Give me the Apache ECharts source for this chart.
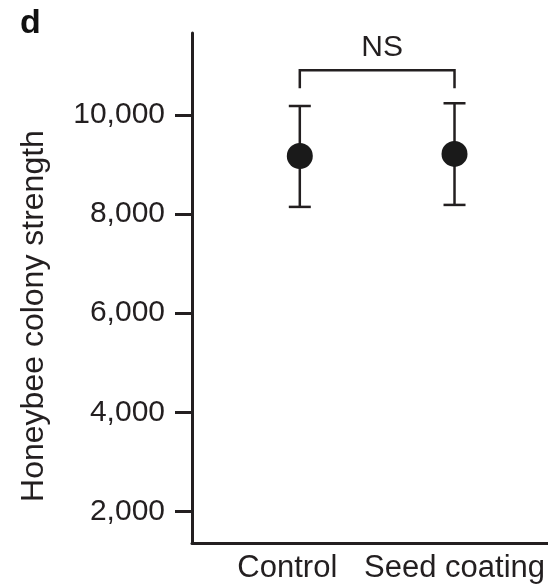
<!DOCTYPE html>
<html>
<head>
<meta charset="utf-8">
<script src="https://cdn.jsdelivr.net/npm/echarts@6/dist/echarts.min.js"></script>
<style>
  html, body { margin: 0; padding: 0; background: #fff; }
  #chart { width: 548px; height: 586px; }
</style>
</head>
<body>
<div id="chart"></div>
<script>
// ---- Data ----
const categories = ['Control', 'Seed coating'];
const means = [9173, 9214];
const upper = [10181, 10236];
const lower = [8145, 8185];
const yTicks = [2000, 4000, 6000, 8000, 10000];
const yName = 'Honeybee colony strength';
const panelLabel = 'd';
const bracketLegEnd = 10540;
const bracketTop = 10900;
const sigLabel = 'NS';
const sigLabelY = 11361;
const yMin = 1363;
const yMax = 11654;

const FONT = "'Liberation Sans', Arial, Helvetica, sans-serif";
const INK = '#231f20';

const idx = categories.map((c, i) => i);
const meanData = idx.map(i => [i, means[i]]);
const errData = idx.map(i => [i, lower[i], upper[i]]);
const bracketData = [[0, 1, bracketLegEnd, bracketTop, sigLabelY]];

const chart = echarts.init(document.getElementById('chart'), null, { renderer: 'canvas' });

chart.setOption({
  animation: false,
  backgroundColor: '#fff',
  title: {
    text: panelLabel,
    left: 20,
    top: 7,
    padding: 0,
    textStyle: { fontFamily: FONT, fontSize: 34, fontWeight: 'bold', color: '#111' }
  },
  grid: { left: 192, right: 0, top: 33, bottom: 43, containLabel: false },
  xAxis: {
    type: 'value',
    min: -0.6968,
    max: 1.6,
    splitLine: { show: false },
    axisLine: { show: true, onZero: false, lineStyle: { color: INK, width: 3 } },
    axisTick: { show: false },
    axisLabel: {
      customValues: idx,
      margin: 10,
      fontFamily: FONT,
      fontSize: 31,
      color: INK,
      formatter: v => {
        const name = categories[Math.round(v)];
        return Math.round(v) === 0 ? '{shift|' + name + '}' : name;
      },
      rich: {
        shift: { fontFamily: FONT, fontSize: 31, color: INK, padding: [0, 25, 0, 0] }
      }
    }
  },
  yAxis: {
    type: 'value',
    min: yMin,
    max: yMax,
    name: yName,
    nameLocation: 'middle',
    nameGap: 142,
    nameTextStyle: { fontFamily: FONT, fontSize: 32, color: INK, padding: [0, 56, 0, 0] },
    splitLine: { show: false },
    axisLine: { show: true, onZero: false, lineStyle: { color: INK, width: 3 } },
    axisTick: { show: true, customValues: yTicks, length: 17, lineStyle: { color: INK, width: 3 } },
    axisLabel: {
      customValues: yTicks,
      margin: 27,
      fontFamily: FONT,
      fontSize: 30,
      color: INK,
      formatter: v => v.toLocaleString('en-US')
    }
  },
  series: [
    {
      type: 'custom',
      name: 'error',
      data: errData,
      z: 2,
      renderItem: (params, api) => {
        const x = api.value(0);
        const pLo = api.coord([x, api.value(1)]);
        const pHi = api.coord([x, api.value(2)]);
        const hw = 11;
        const st = { stroke: INK, lineWidth: 2.5 };
        return {
          type: 'group',
          children: [
            { type: 'line', shape: { x1: pLo[0], y1: pLo[1], x2: pHi[0], y2: pHi[1] }, style: st },
            { type: 'line', shape: { x1: pHi[0] - hw, y1: pHi[1], x2: pHi[0] + hw, y2: pHi[1] }, style: st },
            { type: 'line', shape: { x1: pLo[0] - hw, y1: pLo[1], x2: pLo[0] + hw, y2: pLo[1] }, style: st }
          ]
        };
      }
    },
    {
      type: 'scatter',
      name: 'mean',
      data: meanData,
      symbol: 'circle',
      symbolSize: 26,
      z: 3,
      itemStyle: { color: '#1a1a1a', opacity: 1 }
    },
    {
      type: 'custom',
      name: 'bracket',
      data: bracketData,
      z: 2,
      renderItem: (params, api) => {
        const a = api.value(0), b = api.value(1);
        const legEnd = api.value(2), top = api.value(3), ly = api.value(4);
        const p1 = api.coord([a, legEnd]);
        const p2 = api.coord([a, top]);
        const p3 = api.coord([b, top]);
        const p4 = api.coord([b, legEnd]);
        const pl = api.coord([(a + b) / 2, ly]);
        return {
          type: 'group',
          children: [
            { type: 'polyline', shape: { points: [p1, p2, p3, p4] }, style: { stroke: INK, lineWidth: 2.5, fill: null } },
            { type: 'text', x: pl[0] + 5, y: pl[1], style: { text: sigLabel, font: '30px ' + FONT, fill: INK, align: 'center', verticalAlign: 'middle' } }
          ]
        };
      }
    }
  ]
});
</script>
</body>
</html>
